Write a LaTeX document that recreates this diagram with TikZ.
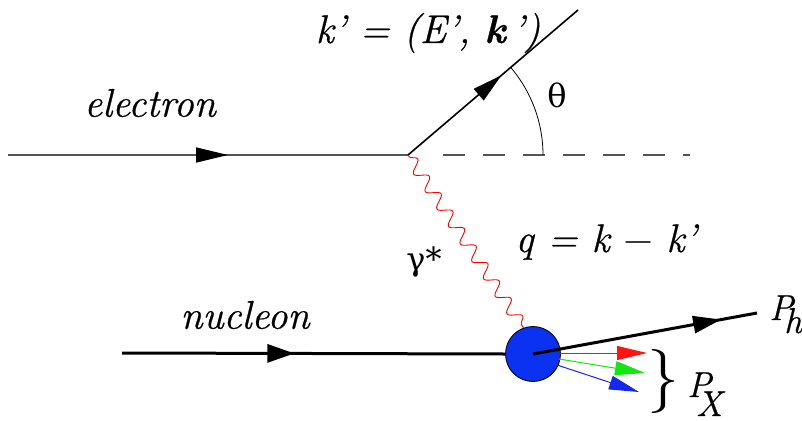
\documentclass[tikz,border=0pt]{standalone}
\usepackage{fontspec}
\newfontfamily\grk{DejaVu Serif}
\newfontfamily\lmb{Latin Modern Roman}[FakeBold=0.6]
\usetikzlibrary{arrows.meta,decorations.markings,decorations.pathmorphing}
\definecolor{lgray}{RGB}{85,85,85}
\definecolor{blobblue}{RGB}{10,50,240}
\definecolor{ared}{RGB}{255,20,20}
\definecolor{agreen}{RGB}{20,230,20}
\definecolor{ablue}{RGB}{20,40,240}
\begin{document}
\begin{tikzpicture}[x=1pt,y=-1pt,
  lbl/.style={font=\lmb\fontsize{40}{44}\selectfont\itshape, inner sep=0pt},
  plbl/.style={font=\lmb\fontsize{36}{38}\selectfont\itshape, inner sep=0pt, anchor=base west},
  glbl/.style={font=\grk\fontsize{32}{40}\selectfont, inner sep=0pt},
  midarrow/.style args={#1/#2/#3}{postaction={decorate,decoration={markings,
      mark=at position #1 with {\arrow[black]{Triangle[length=#2pt,width=#3pt]}}}}},
  smallhead/.style={-{Triangle[length=30pt,width=14pt]}}
]
\useasboundingbox (0,0) rectangle (802,420);
% coordinates
\coordinate (ein) at (8,155);
\coordinate (vtx) at (408,155);
\coordinate (eout) at (578,10);
\coordinate (dash0) at (443,155);
\coordinate (dash1) at (690,155);
\coordinate (arc0) at (543,155);
\coordinate (nin) at (122,353);
\coordinate (ph) at (757,313);
\coordinate (r0) at (560,353);
\coordinate (r1) at (647,353);
\coordinate (g0) at (559,359);
\coordinate (g1) at (645,373);
\coordinate (b0) at (557,365);
\coordinate (b1) at (639,392);
% blob
\node[circle, draw=black, line width=0.8pt, fill=blobblue, minimum size=55pt, inner sep=0pt] (blob) at (533,354) {};
% electron
\draw[lgray, line width=1.6pt, midarrow=0.55/32/15] (ein) -- (vtx);
\draw[black, line width=1.6pt, midarrow=0.55/30/15] (vtx) -- (eout);
\draw[lgray, line width=1.6pt, dash pattern=on 22pt off 18pt] (dash0) -- (dash1);
\draw[black, line width=0.8pt] (arc0) arc[start angle=0, end angle=-40.5, radius=135];
% photon
\draw[red, line width=0.9pt, decorate, decoration={snake, segment length=21pt, amplitude=6pt, pre length=2pt, post length=2pt}] (vtx) -- (blob.110);
% nucleon
\draw[black, line width=3pt, midarrow=0.45/27/18] (nin) -- (blob.west);
\draw[black, line width=3pt, midarrow=0.84/28/17] (blob.center) -- (ph);
% colored
\draw[ared, line width=1pt, smallhead] (r0) -- (r1);
\draw[agreen, line width=1pt, smallhead] (g0) -- (g1);
\draw[ablue, line width=1pt, smallhead] (b0) -- (b1);
% labels
\node[lbl] (tk) at (428,33) {k’ = (E’, \textbf{k}\,’)};
\node[lbl] (te) at (150,103) {electron};
\node[glbl] (tth) at (557,95) {θ};
\node[glbl] (tg) at (424,262) {γ*};
\node[lbl] (tq) at (606,242) {q = k {\upshape −} k’};
\node[lbl] (tn) at (245,315) {nucleon};
\node[plbl] (tph) at (769,320) {P\kern-9pt\raisebox{-13pt}{h}};
\node[font=\fontsize{64}{70}\selectfont, inner sep=0pt] (brace) at (663,381) {\}};
\node[plbl] (tpx) at (687,397) {P\kern-15pt\raisebox{-19pt}{X}};
\end{tikzpicture}
\end{document}
